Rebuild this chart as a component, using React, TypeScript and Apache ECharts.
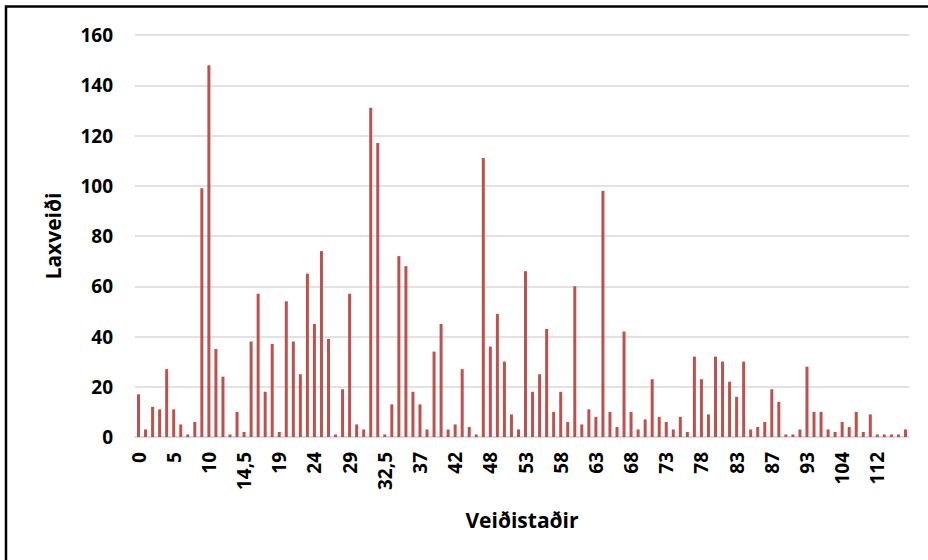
import React, { useEffect, useRef } from "react";
import * as echarts from "echarts";

const categories: string[] = [
  "0", "1", "2", "3", "4", "5", "6", "7", "8", "9",
  "10", "11", "12", "13", "14", "14,5", "15", "16", "17", "18",
  "19", "20", "21", "22", "23", "24", "25", "26", "27", "28",
  "29", "29,5", "30", "31", "32", "32,5", "33", "34", "35", "36",
  "37", "38", "39", "40", "41", "42", "43", "44", "45", "47",
  "48", "49", "50", "51", "52", "53", "54", "55", "56", "57",
  "58", "59", "60", "61", "62", "63", "64", "65", "66", "67",
  "68", "69", "70", "71", "72", "73", "74", "75", "76", "77",
  "78", "79", "80", "81", "82", "83", "84", "85", "85,5", "86",
  "87", "88", "89", "90", "92", "93", "95", "97", "100", "102",
  "104", "106", "108", "109", "110", "112", "113", "114", "115", "116",
];

const laxveidi: number[] = [
  17, 3, 12, 11, 27, 11, 5, 1, 6, 99,
  148, 35, 24, 1, 10, 2, 38, 57, 18, 37,
  2, 54, 38, 25, 65, 45, 74, 39, 1, 19,
  57, 5, 3, 131, 117, 1, 13, 72, 68, 18,
  13, 3, 34, 45, 3, 5, 27, 4, 1, 111,
  36, 49, 30, 9, 3, 66, 18, 25, 43, 10,
  18, 6, 60, 5, 11, 8, 98, 10, 4, 42,
  10, 3, 7, 23, 8, 6, 3, 8, 2, 32,
  23, 9, 32, 30, 22, 16, 30, 3, 4, 6,
  19, 14, 1, 1, 3, 28, 10, 10, 3, 2,
  6, 4, 10, 2, 9, 1, 1, 1, 1, 3,
];

const yTicks = { min: 0, max: 160, interval: 20 };

const FONT = "'Open Sans', 'Liberation Sans', sans-serif";

export default function App() {
  const ref = useRef<HTMLDivElement>(null);
  useEffect(() => {
    if (!ref.current) return;
    const chart = echarts.init(ref.current, null, { renderer: "svg" });
    chart.setOption({
      animation: false,
      backgroundColor: "#ffffff",
      textStyle: { fontFamily: FONT },
      grid: { left: 135, right: 19, top: 35, bottom: 123, containLabel: false },
      graphic: [
        {
          type: "rect",
          shape: { x: 6, y: 6.5, width: 960, height: 600 },
          style: { fill: "none", stroke: "#000000", lineWidth: 2.5 },
          silent: true,
          z: 100,
        },
      ],
      xAxis: {
        type: "category",
        data: categories,
        name: "Veiðistaðir",
        nameLocation: "middle",
        nameGap: 72,
        nameTextStyle: { fontFamily: FONT, fontWeight: "bold", fontSize: 21, color: "#000000" },
        axisLine: { show: true, lineStyle: { color: "#d9d9d9", width: 1.5 } },
        axisTick: { show: false },
        axisLabel: {
          interval: 4,
          rotate: 90,
          margin: 15,
          fontFamily: FONT,
          fontWeight: "bold",
          fontSize: 19,
          color: "#000000",
        },
      },
      yAxis: {
        type: "value",
        min: yTicks.min,
        max: yTicks.max,
        interval: yTicks.interval,
        name: "Laxveiði",
        nameLocation: "middle",
        nameGap: 72,
        nameRotate: 90,
        nameTextStyle: { fontFamily: FONT, fontWeight: "bold", fontSize: 21, color: "#000000" },
        axisLine: { show: false },
        axisTick: { show: false },
        axisLabel: {
          margin: 22,
          fontFamily: FONT,
          fontWeight: "bold",
          fontSize: 19,
          color: "#000000",
        },
        splitLine: { lineStyle: { color: "#d9d9d9", width: 1.5 } },
      },
      series: [
        {
          type: "bar",
          data: laxveidi,
          barWidth: 3,
          itemStyle: { color: "#c0504d" },
        },
      ],
    });
    return () => chart.dispose();
  }, []);
  return (
    <div
      ref={ref}
      style={{ position: "fixed", left: 0, top: 0, width: 928, height: 560, background: "#fff" }}
    />
  );
}
